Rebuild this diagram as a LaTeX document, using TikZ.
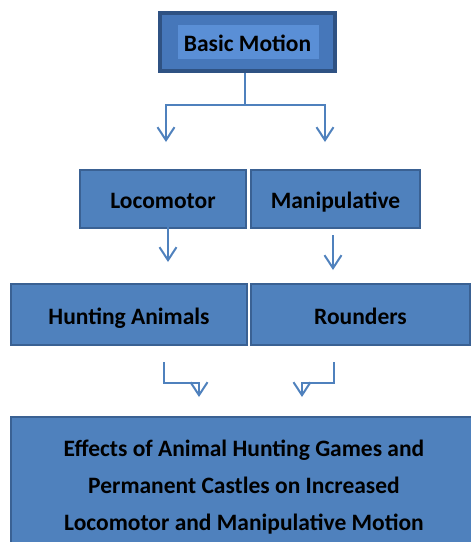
\documentclass[tikz,border=0pt]{standalone}
\usepackage{fontspec}
\setmainfont{Carlito}
\usetikzlibrary{arrows.meta}

\definecolor{boxblue}{HTML}{4F81BD}
\definecolor{boxline}{HTML}{3A6193}
\definecolor{topline}{HTML}{2F5283}
\definecolor{topfill}{HTML}{4677BA}
\definecolor{topinner}{HTML}{5A8FD6}
\definecolor{arrowblue}{HTML}{4F81BD}

\begin{document}
\begin{tikzpicture}[x=1pt,y=-1pt,
    box/.style={draw=boxline,line width=1.5pt,fill=boxblue,inner sep=0pt,font=\fontsize{23.5}{28}\selectfont\bfseries},
    oneline/.style={box,text height=20pt,text depth=1pt},
    link/.style={draw=arrowblue,line width=2pt,-{Straight Barb[length=13pt,width=17pt,line width=2pt]}}]
    \useasboundingbox (0,0) rectangle (471,542);
    % boxes
    \node[oneline,draw=topline,line width=3.5pt,fill=topfill,minimum width=175pt,minimum height=58pt,
      path picture={\fill[topinner] ([xshift=-70pt,yshift=-17pt]path picture bounding box.center) rectangle ([xshift=71pt,yshift=17pt]path picture bounding box.center);}]
      (basic) at (247.5,42) {Basic Motion};
    \node[oneline,minimum width=166pt,minimum height=58pt] (loco) at (163,199) {Locomotor};
    \node[oneline,minimum width=169pt,minimum height=58pt] (mani) at (335.5,199) {Manipulative};
    \node[oneline,minimum width=236pt,minimum height=61pt] (hunt) at (129,314.5) {Hunting Animals};
    \node[oneline,minimum width=219pt,minimum height=61pt] (round) at (360.5,314.5) {Rounders};
    \node[box,minimum width=466pt,minimum height=140pt,align=center,font=\fontsize{23.5}{36.7}\selectfont\bfseries]
      (effect) at (244,487) {Effects of Animal Hunting Games and\\Permanent Castles on Increased\\Locomotor and Manipulative Motion};
    % connectors
    \coordinate (split) at (245,105);
    \coordinate (lococ) at (166,142);
    \coordinate (manic) at (325,142);
    \draw[draw=arrowblue,line width=2pt] (basic.south -| split) -- (split);
    \draw[link] (split) -| (lococ);
    \draw[link] (split) -| (manic);
    \coordinate (locoa) at (168,215);
    \coordinate (locob) at (168,262);
    \coordinate (mania) at (333,235);
    \coordinate (manib) at (333,270);
    \draw[link] (locoa) -- (locob);
    \draw[link] (mania) -- (manib);
    \coordinate (hunta) at (164,362);
    \coordinate (huntb) at (199,397);
    \coordinate (rounda) at (334,362);
    \coordinate (roundb) at (302,397);
    \draw[link] (hunta) -- (164,383) -| (huntb);
    \draw[link] (rounda) -- (334,383) -| (roundb);
\end{tikzpicture}
\end{document}
